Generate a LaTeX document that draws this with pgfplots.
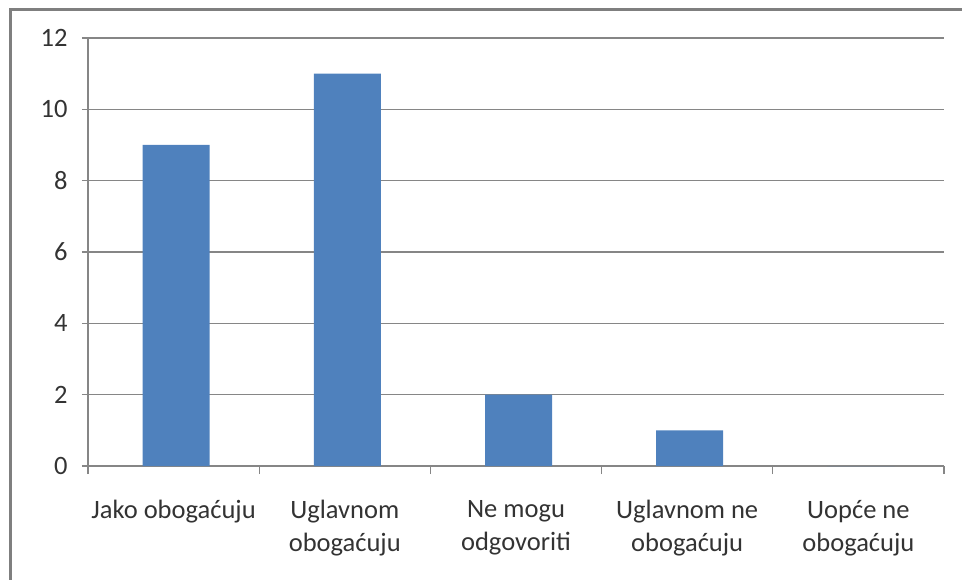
\documentclass[border=0pt]{standalone}
\usepackage{fontspec}
\setmainfont{Carlito}
\usepackage{pgfplots}
\pgfplotsset{compat=1.18}
\definecolor{barblue}{HTML}{4F81BD}
\definecolor{gridgray}{HTML}{868686}
\definecolor{framegray}{HTML}{7F7F7F}
\definecolor{labeltext}{HTML}{333333}
\begin{document}
\begin{tikzpicture}
\path[use as bounding box] (0pt,0pt) rectangle (962pt,579pt);
\draw[color=framegray, line width=3pt] (10.5pt,-5pt) -- (10.5pt,569.5pt) -- (975pt,569.5pt);
\begin{axis}[
  at={(88pt,113pt)}, anchor=south west,
  scale only axis, width=856pt, height=428pt,
  xmin=-0.5, xmax=4.5, ymin=0, ymax=12,
  axis lines*=left,
  axis line style={gridgray, line width=1.2pt},
  ytick={0,2,...,12},
  ymajorgrids, grid style={gridgray, line width=1.2pt},
  tick align=outside,
  major tick length=6pt,
  ytick style={draw=gridgray, line width=1.2pt},
  xtick={0,...,4},
  xticklabels={{Jako obogaćuju},{Uglavnom\\obogaćuju},{Ne mogu\\odgovoriti},{Uglavnom ne\\obogaćuju},{Uopće ne\\obogaćuju}},
  xtick style={draw=none},
  extra x ticks={-0.5,0.5,1.5,2.5,3.5,4.5},
  extra x tick labels={},
  extra x tick style={grid=none, xtick style={draw=gridgray, line width=1.2pt}, major tick length=8pt},
  /pgf/number format/assume math mode=true,
  tick label style={font=\fontsize{26.5}{32.5}\selectfont, text=labeltext},
  yticklabel style={xshift=-11pt},
  xticklabel style={align=center, yshift=-25pt},
  clip=false,
]
\addplot[ybar, bar width=67pt, bar shift=2.5pt, fill=barblue, draw=none] coordinates {(0,9) (1,11) (2,2) (3,1) (4,0)};
\end{axis}
\end{tikzpicture}
\end{document}
